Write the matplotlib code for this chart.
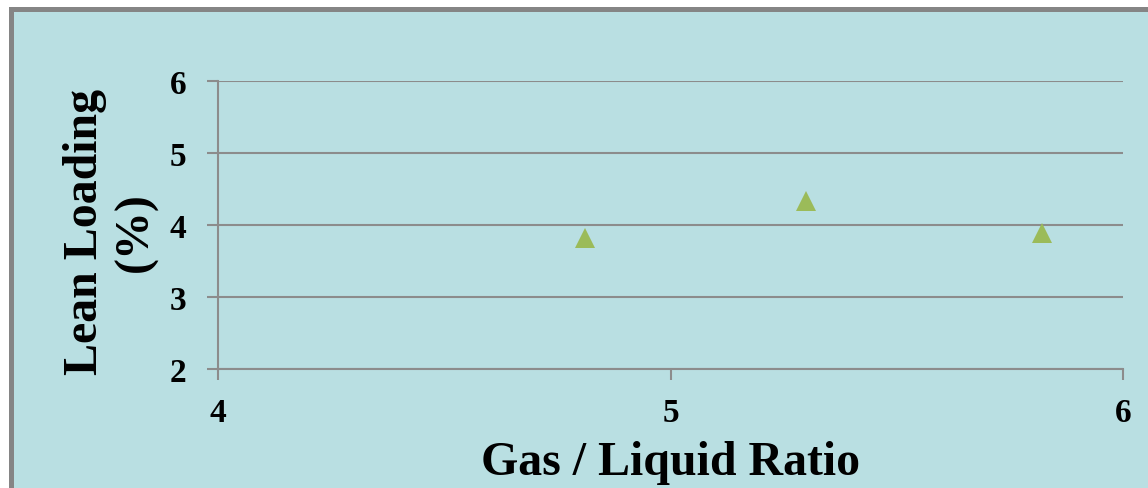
import numpy as np
import matplotlib.pyplot as plt
from matplotlib.patches import Rectangle

#----データ-------------------------------------------------------------
GL_RATIO=[4.81, 5.30, 5.82]          # Gas / Liquid Ratio
LEAN_LOAD=[3.82, 4.33, 3.89]         # Lean Loading (%)
XTICKS=[4, 5, 6]
YTICKS=[2, 3, 4, 5, 6]

#----描画設定-----------------------------------------------------------
BG='#B9DFE2'
GRID='#8C8C8C'
plt.rcParams['font.family']=['Liberation Serif', 'DejaVu Serif']
plt.rcParams['font.weight']='bold'

fig=plt.figure(figsize=(11.48, 4.89), dpi=100)
fig.patch.set_facecolor('white')
# 外枠（右と下は画像外まで続く）
fig.patches.append(Rectangle((10.5/1148, -0.05), 1.2, 1-10/489+0.05,
                             transform=fig.transFigure, facecolor=BG,
                             edgecolor='#858585', linewidth=3.6, zorder=0))

ax=fig.add_axes([218/1148, 1-370/489, (1123-218)/1148, (370-82)/489])
ax.set_zorder(2)
ax.set_facecolor('none')
ax.plot(GL_RATIO, LEAN_LOAD, linestyle='none', marker='^', markersize=14.5,
        color='#9BBB59', markeredgewidth=0, zorder=3)

ax.set_xlim(4, 6)
ax.set_ylim(2, 6)
ax.set_xticks(XTICKS)
ax.set_yticks(YTICKS)
ax.yaxis.grid(True, color=GRID, linewidth=1.5)
ax.set_axisbelow(True)
for s in ['top', 'right']:
  ax.spines[s].set_visible(False)
for s in ['left', 'bottom']:
  ax.spines[s].set_color(GRID)
  ax.spines[s].set_linewidth(1.5)
ax.tick_params(axis='both', colors=GRID, length=8, width=1.5, labelcolor='black',
               labelsize=24)
ax.tick_params(axis='y', pad=15)
ax.tick_params(axis='x', pad=12)
ax.set_xlabel('Gas / Liquid Ratio', fontsize=34.5, fontweight='bold', labelpad=9)
ax.set_ylabel('Lean Loading\n(%)', fontsize=34.5, fontweight='bold',
              linespacing=1.2)
ax.yaxis.set_label_coords(-0.066, 0.48)

plt.savefig('out.png', dpi=100)
plt.close()
